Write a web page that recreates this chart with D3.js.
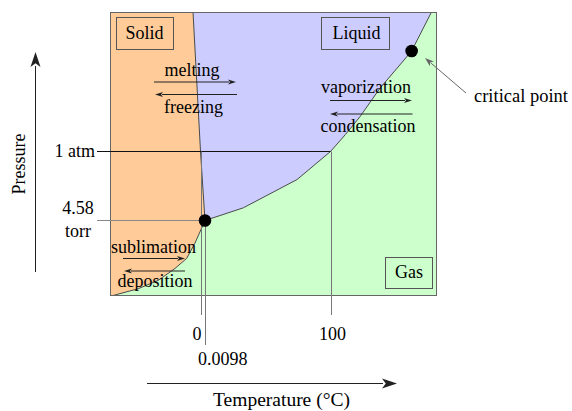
<!DOCTYPE html>
<html>
<head>
<meta charset="utf-8">
<script src="https://cdn.jsdelivr.net/npm/d3@7"></script>
<style>
  html, body { margin: 0; padding: 0; background: #fff; }
  svg { display: block; }
  text { font-family: "Liberation Serif", "Times New Roman", serif; fill: #000; }
</style>
</head>
<body>
<svg id="chart" width="572" height="411"></svg>
<script>
// ---------------- data (schematic phase diagram of water) ----------------
const tempDomain = [-70, 0, 0.0098, 100, 458];          // °C (schematic, piecewise)
const pressDomain = [1e-4, 0.006, 1, 218, 1000];         // atm (schematic, piecewise log)

const sublimationT = [-68, -48.4, -32.8, -19.8, -10.7, -4.3, 0.0026, 0.0098];
const sublimationP = [1e-4, 1.45e-4, 2.29e-4, 4.38e-4, 7.62e-4, 1.75e-3, 4.0e-3, 0.006];

const fusionT = [0.0098, 0, -5.8];
const fusionP = [0.006, 1, 1000];

const vaporT = [0.0098, 30.6, 73.4, 100, 150.2, 200.4, 267.3, 334.2, 374, 440.3];
const vaporP = [0.006, 0.0154, 0.1254, 1, 2.47, 6.57, 29.8, 103.3, 218, 1000];

const tempTicks = [0, 0.0098, 100];
const tempTickLabels = ["0", "0.0098", "100"];
const pressTicks = [1, 0.006];
const pressTickLabels = [["1 atm"], ["4.58", "torr"]];

const triplePoint = { T: 0.0098, P: 0.006 };
const criticalPoint = { T: 374, P: 218 };

const phaseNames = ["Solid", "Liquid", "Gas"];
const processNames = [["melting", "freezing"], ["vaporization", "condensation"], ["sublimation", "deposition"]];

// ---------------- layout ----------------
const svg = d3.select("#chart");
const x = d3.scaleLinear().domain(tempDomain).range([110.5, 200.5, 205, 330.5, 436.5]);
const y = d3.scaleLog().domain(pressDomain).range([295.5, 220.5, 151.5, 51, 12.5]);

const colors = { solid: "#FFCC99", liquid: "#CCCCFF", gas: "#CCFFCC" };
const zip = (a, b) => a.map((v, i) => [v, b[i]]);
const sub = zip(sublimationT, sublimationP);
const fus = zip(fusionT, fusionP);
const vap = zip(vaporT, vaporP);
const tMin = tempDomain[0], tMax = tempDomain[tempDomain.length - 1];
const pMin = pressDomain[0], pMax = pressDomain[pressDomain.length - 1];

const line = d3.line().x(d => x(d[0])).y(d => y(d[1]));

// gas = background of plot
svg.append("rect")
  .attr("x", x(tMin)).attr("y", y(pMax))
  .attr("width", x(tMax) - x(tMin)).attr("height", y(pMin) - y(pMax))
  .attr("fill", colors.gas);

// solid region
const solidPoly = [[tMin, pMax], [tMin, pMin]].concat(sub, fus.slice(1));
svg.append("path").attr("d", line(solidPoly) + "Z").attr("fill", colors.solid);

// liquid region
const liquidPoly = fus.slice().reverse().concat(vap.slice(1));
svg.append("path").attr("d", line(liquidPoly) + "Z").attr("fill", colors.liquid);

// phase boundaries
[sub, fus, vap].forEach(c => {
  svg.append("path").attr("d", line(c)).attr("fill", "none")
    .attr("stroke", "#4a4a4a").attr("stroke-width", 1);
});

// frame
svg.append("rect")
  .attr("x", x(tMin)).attr("y", y(pMax))
  .attr("width", x(tMax) - x(tMin)).attr("height", y(pMin) - y(pMax))
  .attr("fill", "none").attr("stroke", "#666").attr("stroke-width", 1);

// reference lines
const leftLabelEdge = 97;
svg.append("line").attr("x1", leftLabelEdge).attr("x2", x(100))
  .attr("y1", y(1)).attr("y2", y(1)).attr("stroke", "#111").attr("stroke-width", 1);
svg.append("line").attr("x1", leftLabelEdge).attr("x2", x(triplePoint.T))
  .attr("y1", y(triplePoint.P)).attr("y2", y(triplePoint.P)).attr("stroke", "#888").attr("stroke-width", 1);

const tickBottom = { 0: 315, 0.0098: 345, 100: 315 };
tempTicks.forEach(t => {
  const yTop = t === triplePoint.T ? y(triplePoint.P) : y(1);
  svg.append("line").attr("x1", Math.round(x(t)) + 0.5).attr("x2", Math.round(x(t)) + 0.5)
    .attr("y1", yTop).attr("y2", tickBottom[t]).attr("stroke", "#777").attr("stroke-width", 1);
});

// points
[triplePoint, criticalPoint].forEach(p => {
  svg.append("circle").attr("cx", x(p.T)).attr("cy", y(p.P)).attr("r", 6.3).attr("fill", "#000");
});

// ---------------- text ----------------
const FS = 18;
function txt(s, px, py, anchor, size) {
  return svg.append("text").attr("x", px).attr("y", py)
    .attr("text-anchor", anchor || "middle").attr("font-size", size || FS).text(s);
}

// x tick labels
txt(tempTickLabels[0], x(0) + 1, 340, "end");
txt(tempTickLabels[1], x(0.0098) - 7, 365, "start");
txt(tempTickLabels[2], x(100) + 2, 340, "middle");

// y tick labels
txt(pressTickLabels[0][0], 95, 157, "end");
txt(pressTickLabels[1][0], 78, 214, "middle");
txt(pressTickLabels[1][1], 78, 237, "middle");

// arrows
function arrow(x1, y1, x2, y2, hl, hw, color) {
  const dx = x2 - x1, dy = y2 - y1, L = Math.hypot(dx, dy);
  const ux = dx / L, uy = dy / L;
  const bx = x2 - ux * hl, by = y2 - uy * hl;
  svg.append("line").attr("x1", x1).attr("y1", y1).attr("x2", bx + ux * 1).attr("y2", by + uy * 1)
    .attr("stroke", color).attr("stroke-width", 1);
  svg.append("path")
    .attr("d", `M${x2},${y2}L${bx - uy * hw / 2},${by + ux * hw / 2}L${bx + ux * hl * 0.25},${by + uy * hl * 0.25}L${bx + uy * hw / 2},${by - ux * hw / 2}Z`)
    .attr("fill", color);
}

// axis arrows + titles
arrow(35.5, 272, 35.5, 52, 15, 10, "#222");
arrow(147, 383.5, 397, 383.5, 15, 10, "#222");
txt("Temperature (°C)", 281.5, 406, "middle", 19.5);
svg.append("text").attr("transform", "translate(25,164) rotate(-90)")
  .attr("text-anchor", "middle").attr("font-size", FS).text("Pressure");

// phase boxes
const boxes = [
  { name: phaseNames[0], x: 116.5, y: 17.5, w: 57, h: 32, bx: 144.5, by: 39 },
  { name: phaseNames[1], x: 321.5, y: 17.5, w: 68, h: 32, bx: 356.5, by: 39 },
  { name: phaseNames[2], x: 385.5, y: 257.5, w: 47, h: 31, bx: 409, by: 278 }
];
boxes.forEach(b => {
  svg.append("rect").attr("x", b.x).attr("y", b.y).attr("width", b.w).attr("height", b.h)
    .attr("fill", "none").attr("stroke", "#555").attr("stroke-width", 1);
  txt(b.name, b.bx, b.by, "middle");
});

// process labels with arrows
const proc = [
  { names: processNames[0], t1: [192, 76], a1: [154, 82, 236], a2: [237, 94.5, 155], t2: [193.5, 113] },
  { names: processNames[1], t1: [366, 93], a1: [330, 100.5, 412], a2: [412.5, 114, 330], t2: [368, 131.5] },
  { names: processNames[2], t1: [153.5, 253], a1: [123, 258.5, 185], a2: [185, 271, 124], t2: [155, 286.5] }
];
proc.forEach(p => {
  txt(p.names[0], p.t1[0], p.t1[1], "middle");
  arrow(p.a1[0], p.a1[1], p.a1[2], p.a1[1], 8, 5, "#222");
  arrow(p.a2[0], p.a2[1], p.a2[2], p.a2[1], 8, 5, "#222");
  txt(p.names[1], p.t2[0], p.t2[1], "middle");
});

// critical point annotation
arrow(466, 93, 425, 58, 9, 6, "#666");
txt("critical point", 474, 102, "start", 18.5);
</script>
</body>
</html>
